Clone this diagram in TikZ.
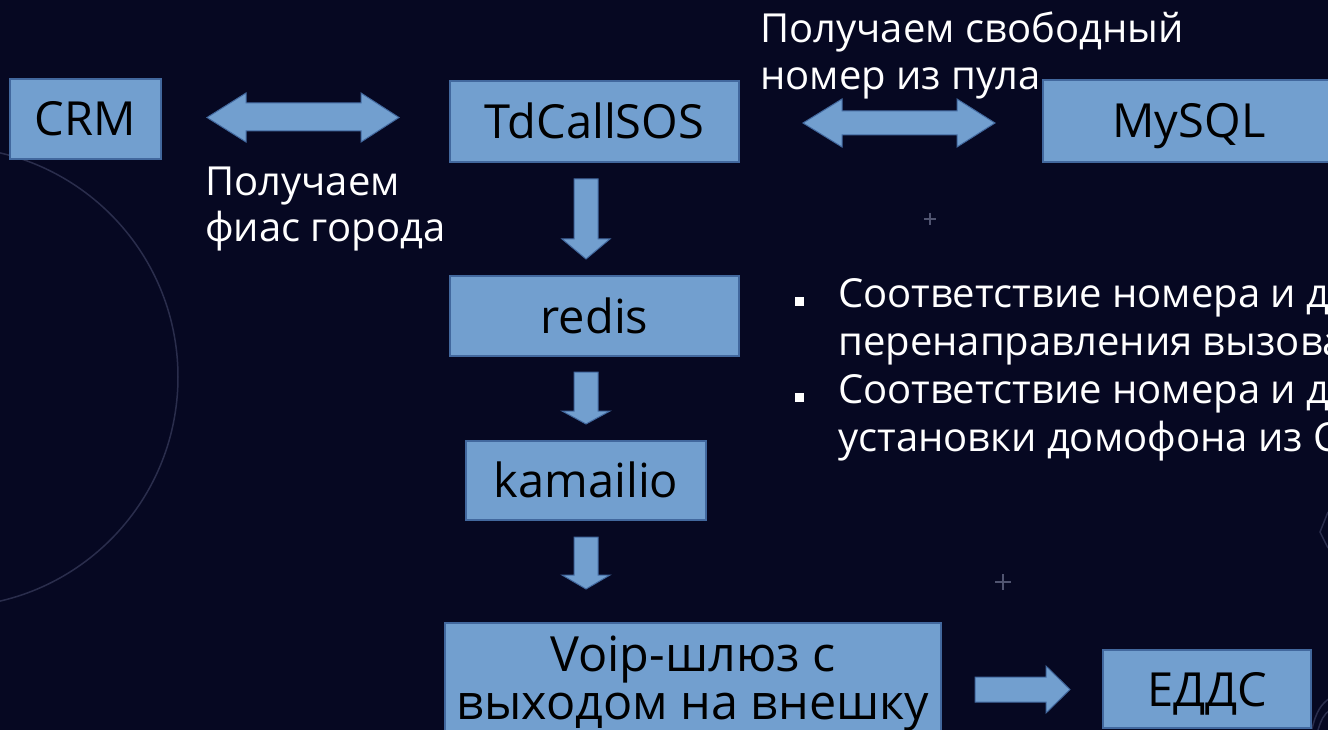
\documentclass[tikz,border=0pt]{standalone}
\usepackage{fontspec}
\setmainfont{Open Sans}
\definecolor{bg}{RGB}{6,8,34}
\definecolor{boxblue}{RGB}{114,159,207}
\definecolor{boxedge}{RGB}{66,104,158}
\definecolor{decocol}{RGB}{42,45,76}
\definecolor{pluscol}{RGB}{80,84,112}
\tikzset{
  box/.style={draw=boxedge, fill=boxblue, line width=1.2pt, inner sep=0pt, text=black,
    font=\fontsize{47}{49}\selectfont, text height=34pt, text depth=0pt},
  twobox/.style={draw=boxedge, fill=boxblue, line width=1.2pt, inner sep=0pt, text=black,
    font=\fontsize{48.5}{48}\selectfont, align=center},
  blk/.style={draw=boxedge, fill=boxblue, line width=1pt, line join=miter},
  lbl/.style={text=white, font=\fontsize{40}{47}\selectfont, align=left, inner sep=0pt, anchor=base west},
  bul/.style={text=white, font=\fontsize{40}{48}\selectfont, align=left, inner sep=0pt, anchor=base west},
  decoline/.style={draw=decocol, line width=1.5pt},
  plusline/.style={draw=pluscol, line width=1.2pt}
}
\begin{document}
\begin{tikzpicture}[x=1pt,y=-1pt]
\useasboundingbox (0,0) rectangle (1328,730);
\clip (0,0) rectangle (1328,730);
\fill[bg] (-5,-5) rectangle (1335,735);

% background decorations
\draw[decoline] (-52,377) circle[radius=230pt];
\draw[plusline] (924,219) -- (936,219) (930,213) -- (930,225);
\draw[plusline] (995,582) -- (1011,582) (1003,574) -- (1003,590);
\draw[decoline] (1328,512) -- (1320,532) -- (1328,548);
\draw[decoline] (1312,729) .. controls (1316,712) and (1321,704) .. (1330,698);
\draw[decoline] (1318,730) .. controls (1321,720) and (1324,714) .. (1330,710);

% boxes
\node[box, minimum width=151pt, minimum height=80pt] (crm) at (85.5,119) {CRM};
\node[box, minimum width=289pt, minimum height=81pt] (td) at (594.5,121.5) {TdCallSOS};
\node[box, minimum width=292pt, minimum height=82pt] (mysql) at (1189,121) {MySQL};
\node[box, minimum width=289pt, minimum height=80pt] (redis) at (594.5,316) {redis};
\node[box, minimum width=240pt, minimum height=79pt] (kam) at (586,480.5) {kamailio};
\node[twobox, minimum width=496pt, minimum height=122pt] (voip) at (693,684) {Voip-шлюз с\\выходом на внешку};
\node[box, minimum width=208pt, minimum height=78pt] (edds) at (1207,689) {ЕДДС};

% block arrows
\draw[blk] (207,117.5) -- (246,93) -- (246,103) -- (361,103) -- (361,93) -- (399,117.5)
  -- (361,142) -- (361,131) -- (246,131) -- (246,142) -- cycle;
\draw[blk] (803,123) -- (842,99) -- (842,111) -- (957,111) -- (957,99) -- (995,123)
  -- (957,147) -- (957,135) -- (842,135) -- (842,147) -- cycle;
\draw[blk] (574,179) -- (598,179) -- (598,239) -- (610,239) -- (586,259) -- (562,239) -- (574,239) -- cycle;
\draw[blk] (574,372) -- (598,372) -- (598,411) -- (610,411) -- (586,424) -- (562,411) -- (574,411) -- cycle;
\draw[blk] (574,537) -- (598,537) -- (598,575) -- (610,575) -- (586,589) -- (562,575) -- (574,575) -- cycle;
\draw[blk] (975,677) -- (1046,677) -- (1046,666) -- (1070,689.5) -- (1046,713) -- (1046,702) -- (975,702) -- cycle;

% labels (base anchor = baseline of the last line)
\node[lbl] (lab1) at (205,242) {Получаем\\фиас города};
\node[lbl] (lab2) at (760,90) {Получаем свободный\\номер из пула};
\node[bul] (notes) at (838,451) {Соответствие номера и д\\перенаправления вызова\\Соответствие номера и д\\установки домофона из С};
\fill[white] (795,297) rectangle (804,306);
\fill[white] (795,393) rectangle (804,402);
\end{tikzpicture}
\end{document}
